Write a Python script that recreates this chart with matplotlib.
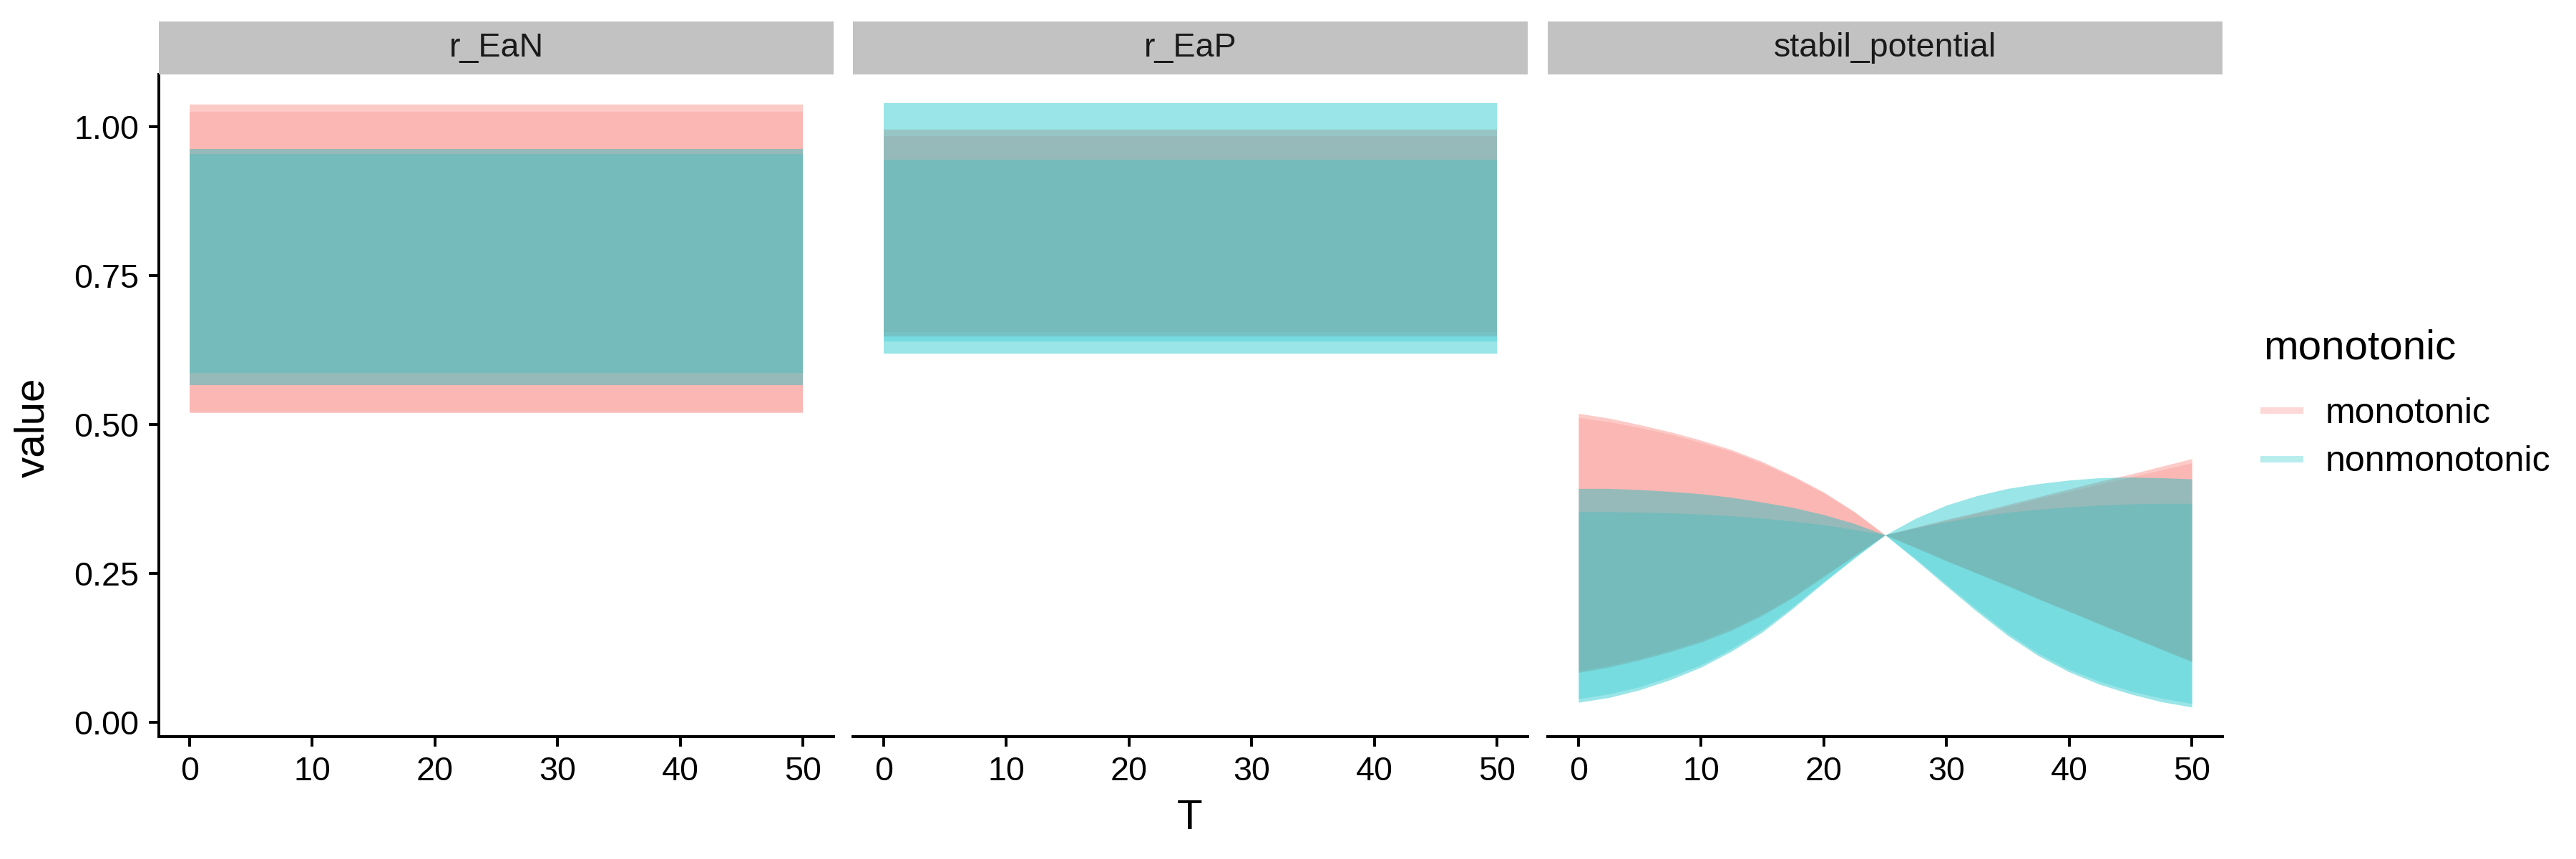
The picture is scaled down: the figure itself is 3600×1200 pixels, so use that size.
import matplotlib
matplotlib.use('Agg')
import matplotlib.pyplot as plt
from matplotlib.lines import Line2D

plt.rcParams['font.family'] = ['Liberation Sans', 'DejaVu Sans']

# ---------------- data ----------------
panels = ['r_EaN', 'r_EaP', 'stabil_potential']
groups = ['monotonic', 'nonmonotonic']
group_colors = ['#F8766D', '#00BFC4']

T_flat = [0, 50]
T_stab = [0, 2.5, 5, 7.5, 10, 12.5, 15, 17.5, 20, 22.5, 25,
          27.5, 30, 32.5, 35, 37.5, 40, 42.5, 45, 47.5, 50]

# r_EaN  (outer envelope and denser inner envelope)
rEaN_mono_lo = [0.520, 0.520]
rEaN_mono_hi = [1.038, 1.038]
rEaN_mono_in_lo = [0.522, 0.522]
rEaN_mono_in_hi = [1.025, 1.025]
rEaN_non_lo = [0.566, 0.566]
rEaN_non_hi = [0.963, 0.963]
rEaN_non_in_lo = [0.587, 0.587]
rEaN_non_in_hi = [0.955, 0.955]

# r_EaP
rEaP_mono_lo = [0.648, 0.648]
rEaP_mono_hi = [0.995, 0.995]
rEaP_mono_in_lo = [0.655, 0.655]
rEaP_mono_in_hi = [0.985, 0.985]
rEaP_non_lo = [0.619, 0.619]
rEaP_non_hi = [1.040, 1.040]
rEaP_non_in_lo = [0.640, 0.640]
rEaP_non_in_hi = [0.945, 0.945]

# stabil_potential
stab_mono_lo = [0.084, 0.093, 0.105, 0.119, 0.135, 0.155, 0.180, 0.210, 0.245, 0.280, 0.315,
                0.294, 0.272, 0.251, 0.230, 0.208, 0.187, 0.165, 0.144, 0.123, 0.102]
stab_mono_hi = [0.519, 0.511, 0.500, 0.488, 0.474, 0.458, 0.438, 0.414, 0.387, 0.354, 0.315,
                0.328, 0.341, 0.353, 0.366, 0.379, 0.392, 0.405, 0.417, 0.430, 0.443]
stab_mono_in_lo = [0.087, 0.096, 0.108, 0.122, 0.138, 0.158, 0.183, 0.212, 0.247, 0.281, 0.315,
                   0.293, 0.271, 0.250, 0.229, 0.207, 0.186, 0.166, 0.145, 0.124, 0.104]
stab_mono_in_hi = [0.512, 0.505, 0.495, 0.484, 0.470, 0.455, 0.435, 0.412, 0.385, 0.353, 0.315,
                   0.327, 0.339, 0.351, 0.363, 0.376, 0.388, 0.400, 0.412, 0.424, 0.436]
stab_non_lo = [0.034, 0.042, 0.055, 0.072, 0.093, 0.120, 0.152, 0.192, 0.235, 0.276, 0.315,
               0.273, 0.229, 0.186, 0.146, 0.112, 0.085, 0.064, 0.048, 0.035, 0.026]
stab_non_hi = [0.393, 0.393, 0.391, 0.388, 0.384, 0.378, 0.370, 0.361, 0.349, 0.334, 0.315,
               0.343, 0.365, 0.381, 0.393, 0.401, 0.407, 0.411, 0.412, 0.411, 0.409]
stab_non_in_lo = [0.040, 0.048, 0.060, 0.077, 0.097, 0.124, 0.156, 0.195, 0.237, 0.277, 0.315,
                  0.275, 0.232, 0.190, 0.150, 0.116, 0.089, 0.069, 0.053, 0.041, 0.032]
stab_non_in_hi = [0.354, 0.354, 0.353, 0.352, 0.350, 0.347, 0.343, 0.338, 0.332, 0.324, 0.315,
                  0.327, 0.337, 0.346, 0.353, 0.358, 0.362, 0.365, 0.367, 0.368, 0.368]

x_ticks = [0, 10, 20, 30, 40, 50]
y_ticks = [0.00, 0.25, 0.50, 0.75, 1.00]
y_tick_labels = ['0.00', '0.25', '0.50', '0.75', '1.00']

panel_data = {
    'r_EaN': (T_flat, [(rEaN_mono_lo, rEaN_mono_hi, rEaN_mono_in_lo, rEaN_mono_in_hi),
                       (rEaN_non_lo, rEaN_non_hi, rEaN_non_in_lo, rEaN_non_in_hi)]),
    'r_EaP': (T_flat, [(rEaP_mono_lo, rEaP_mono_hi, rEaP_mono_in_lo, rEaP_mono_in_hi),
                       (rEaP_non_lo, rEaP_non_hi, rEaP_non_in_lo, rEaP_non_in_hi)]),
    'stabil_potential': (T_stab, [(stab_mono_lo, stab_mono_hi, stab_mono_in_lo, stab_mono_in_hi),
                                  (stab_non_lo, stab_non_hi, stab_non_in_lo, stab_non_in_hi)]),
}

# ---------------- figure ----------------
W, H = 3600, 1200
fig = plt.figure(figsize=(12, 4), dpi=300)

panel_left = [222, 1192, 2163]
panel_w = 943
panel_top, panel_bot = 104, 1029
strip_top = 30

outer_alpha = [0.38, 0.40]
inner_alpha = [0.22, 0.22]

for i, name in enumerate(panels):
    ax = fig.add_axes([panel_left[i] / W, 1 - panel_bot / H, panel_w / W, (panel_bot - panel_top) / H])
    T, series = panel_data[name]
    for g, (lo, hi, ilo, ihi) in enumerate(series):
        ax.fill_between(T, lo, hi, color=group_colors[g], alpha=outer_alpha[g], lw=0)
        ax.fill_between(T, ilo, ihi, color=group_colors[g], alpha=inner_alpha[g], lw=0)
    ax.set_xlim(-2.5, 52.5)
    ax.set_ylim(-0.0235, 1.088)
    ax.set_xticks(x_ticks)
    ax.set_xticklabels([str(t) for t in x_ticks])
    for s in ['top', 'right']:
        ax.spines[s].set_visible(False)
    ax.spines['bottom'].set_linewidth(0.95)
    ax.spines['left'].set_linewidth(0.95)
    ax.tick_params(axis='both', length=3.3, width=0.95, labelsize=11.2, colors='black', pad=3.3)
    if i == 0:
        ax.set_yticks(y_ticks)
        ax.set_yticklabels(y_tick_labels)
    else:
        ax.spines['left'].set_visible(False)
        ax.set_yticks([])
    # strip
    sax = fig.add_axes([panel_left[i] / W, 1 - panel_top / H, panel_w / W, (panel_top - strip_top) / H])
    sax.set_facecolor('#C2C2C2')
    for s in sax.spines.values():
        s.set_visible(False)
    sax.set_xticks([])
    sax.set_yticks([])
    sax.text(0.5, 0.5, name, ha='center', va='center', fontsize=11.2, color='#1A1A1A')

fig.text(1663 / W, 1 - 1143 / H, 'T', ha='center', va='center', fontsize=14)
fig.text(46 / W, 1 - 597 / H, 'value', ha='center', va='center', rotation=90, fontsize=14)

handles = [Line2D([0], [0], color=c, lw=2.2, alpha=0.28) for c in group_colors]
leg = fig.legend(handles, groups, loc='upper left', bbox_to_anchor=(3163 / W, 1 - 459 / H),
                 frameon=False, fontsize=12, title='monotonic', title_fontsize=14,
                 handlelength=1.02, handletextpad=0.72, labelspacing=0.43,
                 borderpad=0, borderaxespad=0, alignment='left')
leg._legend_box.sep = 10

fig.savefig('out.png', dpi=300)
